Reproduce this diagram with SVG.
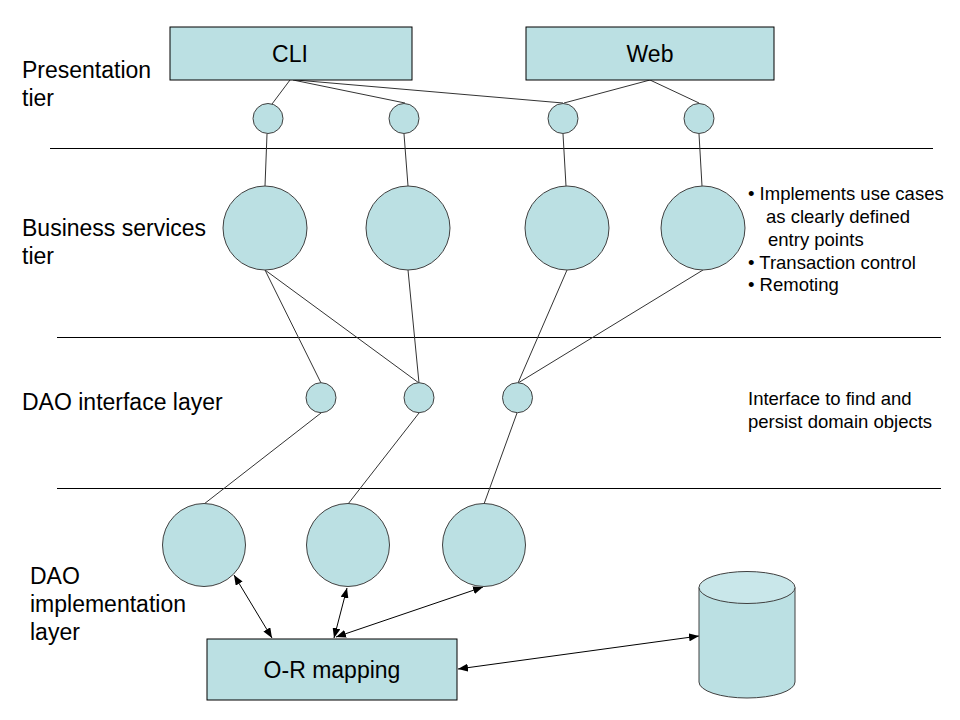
<svg xmlns="http://www.w3.org/2000/svg" width="960" height="720" viewBox="0 0 960 720">
<style>
.bg{fill:#ffffff}
.box{fill:#bbe0e3;stroke:#000000;stroke-width:1}
.node{fill:#bbe0e3;stroke:#404040;stroke-width:1}
.dbtop{fill:#c9e7ea;stroke:#404040;stroke-width:1}
.link{stroke:#333333;stroke-width:1;fill:none}
.arrow{stroke:#000000;stroke-width:1;fill:none;marker-start:url(#ah);marker-end:url(#ah)}
.divider{stroke:#000000;stroke-width:1}
.lbl{font-family:"Liberation Sans",Arial,sans-serif;font-size:23px;fill:#000000}
.cap{font-family:"Liberation Sans",Arial,sans-serif;font-size:23px;fill:#000000;text-anchor:middle}
.note{font-family:"Liberation Sans",Arial,sans-serif;font-size:18.5px;fill:#000000}
</style>
<defs>
<marker id="ah" viewBox="0 0 10 8" refX="10" refY="4" markerWidth="10" markerHeight="8" markerUnits="userSpaceOnUse" orient="auto-start-reverse">
<path d="M0,0 L10,4 L0,8 z" fill="#000000"/>
</marker>
</defs>
<rect class="bg" x="0" y="0" width="960" height="720"/>

<g id="dividers">
<line class="divider" x1="50" y1="148.5" x2="933" y2="148.5"/>
<line class="divider" x1="57" y1="337.5" x2="941" y2="337.5"/>
<line class="divider" x1="57" y1="488.5" x2="941" y2="488.5"/>
</g>

<g id="labels">
<text class="lbl" x="22" y="78">Presentation</text>
<text class="lbl" x="22" y="106">tier</text>
<text class="lbl" x="22" y="236">Business services</text>
<text class="lbl" x="22" y="264">tier</text>
<text class="lbl" x="22" y="410">DAO interface layer</text>
<text class="lbl" x="30" y="584">DAO</text>
<text class="lbl" x="30" y="612">implementation</text>
<text class="lbl" x="30" y="640">layer</text>
<text class="note" x="748" y="200">• Implements use cases</text>
<text class="note" x="766" y="223">as clearly defined</text>
<text class="note" x="768" y="246">entry points</text>
<text class="note" x="748" y="269">• Transaction control</text>
<text class="note" x="748" y="291">• Remoting</text>
<text class="note" x="748" y="405">Interface to find and</text>
<text class="note" x="748" y="428">persist domain objects</text>
</g>

<g id="connectors">
<line class="link" x1="290" y1="80" x2="272" y2="104"/>
<line class="link" x1="293" y1="80" x2="405" y2="103"/>
<line class="link" x1="296" y1="80" x2="563" y2="103"/>
<line class="link" x1="650" y1="80" x2="564" y2="103"/>
<line class="link" x1="650" y1="80" x2="699" y2="103"/>
<line class="link" x1="267" y1="134" x2="265" y2="186"/>
<line class="link" x1="404" y1="134" x2="408" y2="186"/>
<line class="link" x1="563" y1="134" x2="566" y2="186"/>
<line class="link" x1="699" y1="134" x2="702" y2="186"/>
<line class="link" x1="265" y1="270" x2="321" y2="383"/>
<line class="link" x1="265" y1="270" x2="419" y2="383"/>
<line class="link" x1="408" y1="270" x2="419" y2="383"/>
<line class="link" x1="567" y1="270" x2="518" y2="383"/>
<line class="link" x1="703" y1="270" x2="518" y2="383"/>
<line class="link" x1="321" y1="413" x2="204" y2="504"/>
<line class="link" x1="419" y1="413" x2="348" y2="504"/>
<line class="link" x1="517" y1="413" x2="484" y2="504"/>
<line class="arrow" x1="234" y1="575" x2="272" y2="638"/>
<line class="arrow" x1="347" y1="588" x2="334" y2="638"/>
<line class="arrow" x1="483" y1="587" x2="336" y2="637"/>
<line class="arrow" x1="458" y1="669" x2="699" y2="636"/>
</g>

<g id="cli"><rect class="box" x="170" y="27" width="242" height="53"/><text class="cap" x="290" y="62">CLI</text></g>
<g id="web"><rect class="box" x="526" y="27" width="248" height="53"/><text class="cap" x="650" y="62">Web</text></g>

<g id="p1"><circle class="node" cx="268" cy="118.5" r="15"/></g>
<g id="p2"><circle class="node" cx="404" cy="118.5" r="15"/></g>
<g id="p3"><circle class="node" cx="563" cy="118.5" r="15"/></g>
<g id="p4"><circle class="node" cx="699" cy="118.5" r="15"/></g>

<g id="s1"><circle class="node" cx="265" cy="228" r="42"/></g>
<g id="s2"><circle class="node" cx="408" cy="228" r="42"/></g>
<g id="s3"><circle class="node" cx="567" cy="228" r="42"/></g>
<g id="s4"><circle class="node" cx="703" cy="228" r="42"/></g>

<g id="i1"><circle class="node" cx="321" cy="397.7" r="15"/></g>
<g id="i2"><circle class="node" cx="419" cy="397.7" r="15"/></g>
<g id="i3"><circle class="node" cx="517.5" cy="397.7" r="15"/></g>

<g id="d1"><circle class="node" cx="204" cy="545" r="41.5"/></g>
<g id="d2"><circle class="node" cx="348" cy="545" r="41.5"/></g>
<g id="d3"><circle class="node" cx="484" cy="545" r="41.5"/></g>

<g id="orm"><rect class="box" x="207" y="639" width="250" height="61"/><text class="cap" x="332" y="678">O-R mapping</text></g>

<g id="db">
<path class="node" d="M699,587.5 L699,682 A48,16 0 0 0 795,682 L795,587.5 Z"/>
<ellipse class="dbtop" cx="747" cy="587.5" rx="48" ry="16"/>
</g>
</svg>
